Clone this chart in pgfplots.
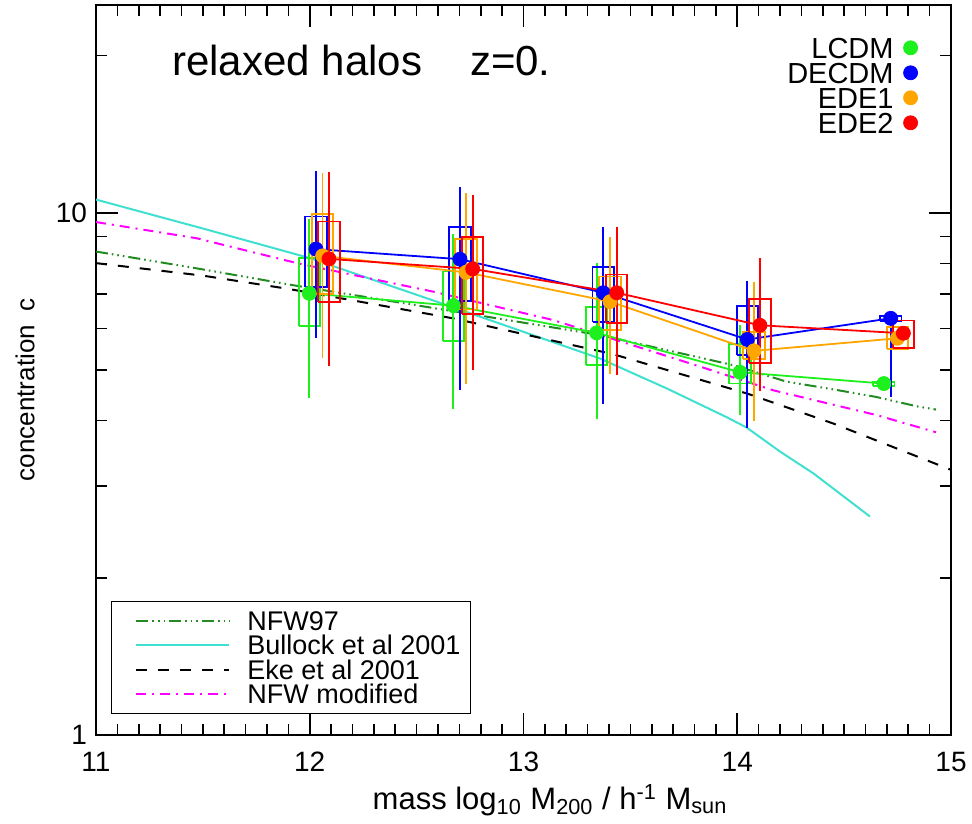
\documentclass[border=0pt]{standalone}
\usepackage{fontspec}
\setmainfont{Liberation Sans}
\usepackage{pgfplots}
\usepackage{pgfplotstable}
\pgfplotsset{compat=1.18}

\definecolor{lcdm}{RGB}{30,240,30}
\definecolor{decdm}{RGB}{0,0,255}
\definecolor{edeone}{RGB}{255,165,0}
\definecolor{edetwo}{RGB}{255,0,0}
\definecolor{bullock}{RGB}{64,224,208}
\definecolor{nfwgreen}{RGB}{34,139,34}
\definecolor{nfwmag}{RGB}{255,0,255}

% model curves
\pgfplotstableread{
x y
11.00 8.43
11.47 7.83
11.92 7.27
12.64 6.51
13.36 5.83
13.98 5.11
14.23 4.75
14.45 4.59
14.65 4.44
14.84 4.26
14.93 4.20
}\nfwnn
\pgfplotstableread{
x y
11.00 10.6
11.50 9.33
12.00 8.19
12.672 6.59
13.358 5.26
13.67 4.61
13.951 4.06
14.044 3.88
14.20 3.49
14.356 3.17
14.621 2.62
}\bullock
\pgfplotstableread{
x y
11.00 8.01
11.50 7.58
11.90 7.15
12.67 6.28
13.42 5.36
14.044 4.51
14.449 3.95
15.00 3.22
}\eke
\pgfplotstableread{
x y
11.00 9.60
11.47 8.94
11.94 8.01
12.58 7.06
13.14 6.23
13.83 5.07
14.17 4.57
14.65 4.10
14.93 3.80
}\nfwmod

% simulation points: x, median
\pgfplotstableread{
x y
11.998 7.01
12.672 6.64
13.342 5.89
14.013 4.95
14.686 4.71
}\lcdmpts
\pgfplotstableread{
x y
12.029 8.52
12.703 8.15
13.373 7.03
14.047 5.72
14.718 6.28
}\decdmpts
\pgfplotstableread{
x y
12.060 8.27
12.731 7.69
13.405 6.76
14.078 5.44
14.749 5.75
}\edeonepts
\pgfplotstableread{
x y
12.090 8.16
12.762 7.81
13.436 7.03
14.106 6.09
14.777 5.88
}\edetwopts

\begin{document}
\begin{tikzpicture}
\begin{axis}[name=main, scale only axis, width=427.5pt, height=365pt,
  xmin=11, xmax=15, ymin=1, ymax=25, ymode=log,
  xtick={11,12,13,14,15}, minor x tick num=9,
  ytick={1,10}, yticklabels={1,10}, minor ytick={2,3,4,5,6,7,8,9,20},
  tick align=inside, major tick length=11pt, minor tick length=5.5pt,
  axis line style={line width=1pt},
  every tick/.style={black, line width=0.8pt},
  tick label style={font=\fontsize{14}{16}\selectfont},
  /pgf/number format/assume math mode=true,
  xticklabel style={yshift=-5pt},
  yticklabel style={xshift=-1pt},
  xlabel={mass log\textsubscript{10} M\textsubscript{200} / h\textsuperscript{-1} M\textsubscript{sun}},
  ylabel={concentration\enspace c},
  ylabel style={font=\fontsize{13}{15}\selectfont, at={(rel axis cs:-0.083,0.4726)}, anchor=center},
  xlabel style={font=\fontsize{15.5}{17}\selectfont, at={(rel axis cs:0.531,-0.089)}, anchor=center},
  legend style={at={(rel axis cs:0.0172,0.0288)}, anchor=south west,
    draw=black, line width=0.6pt, fill=white,
    inner xsep=5pt, inner ysep=4.8pt,
    font=\fontsize{13.5}{15}\selectfont,
    nodes={inner sep=0pt, text height=9.7pt, text depth=0pt},
    row sep=2.55pt,
    /tikz/every odd column/.append style={column sep=8.5pt}},
  legend cell align=left,
  legend image code/.code={\path (0pt,0pt); \draw[#1] (7pt,0pt) -- (53.5pt,0pt);},
]
\addplot[nfwgreen, line width=1pt, dash pattern=on 6pt off 2pt on 0.8pt off 2pt on 0.8pt off 2pt on 0.8pt off 2pt] table {\nfwnn};
\addlegendentry{NFW97}
\addplot[bullock, line width=1pt] table {\bullock};
\addlegendentry{Bullock et al 2001}
\addplot[black, line width=1pt, dash pattern=on 5.5pt off 5.5pt] table {\eke};
\addlegendentry{Eke et al 2001}
\addplot[nfwmag, line width=1pt, dash pattern=on 5pt off 3pt on 1pt off 3pt] table {\nfwmod};
\addlegendentry{NFW modified}
\node[anchor=base west, font=\fontsize{21}{24}\selectfont] at (rel axis cs:0.081,0.904) {relaxed halos\hspace{24pt}z=0.};
\end{axis}

\begin{axis}[scale only axis, width=427.5pt, height=365pt,
  xmin=11, xmax=15, ymin=1, ymax=25, ymode=log, hide axis,
  unbounded coords=jump,
  legend style={at={(rel axis cs:0.9614,0.956)}, anchor=north east,
    draw=none, fill=none, inner sep=0pt,
    font=\fontsize{14.5}{16}\selectfont,
    nodes={inner sep=0pt, text height=10.3pt, text depth=0pt},
    row sep=2.2pt,
    /tikz/every odd column/.append style={column sep=5pt}},
  legend cell align=right, legend plot pos=right,
  legend image code/.code={\draw[#1] plot coordinates {(0pt,0pt)};},
]
% ---- LCDM ----
\addplot[lcdm, line width=0.9pt, forget plot] coordinates {
 (11.998,4.41) (11.998,9.72) (11.998,nan)
 (12.672,4.21) (12.672,9.11) (12.672,nan)
 (13.342,4.02) (13.342,8.01) (13.342,nan)
 (14.013,4.10) (14.013,6.10) };
\addplot[lcdm, line width=0.9pt, forget plot] coordinates {
 (11.948,6.08) (12.048,6.08) (12.048,8.19) (11.948,8.19) (11.948,6.08) (11.948,nan)
 (12.622,5.69) (12.722,5.69) (12.722,7.72) (12.622,7.72) (12.622,5.69) (12.622,nan)
 (13.292,5.11) (13.392,5.11) (13.392,6.61) (13.292,6.61) (13.292,5.11) (13.292,nan)
 (13.963,4.71) (14.063,4.71) (14.063,5.61) (13.963,5.61) (13.963,4.71) (13.963,nan)
 (14.636,4.66) (14.736,4.66) (14.736,4.74) (14.636,4.74) (14.636,4.66) };
\addplot[lcdm, line width=0.9pt, forget plot] table {\lcdmpts};
% ---- DECDM ----
\addplot[decdm, line width=0.9pt, forget plot] coordinates {
 (12.029,5.75) (12.029,12.0) (12.029,nan)
 (12.703,4.57) (12.703,11.2) (12.703,nan)
 (13.373,4.31) (13.373,9.39) (13.373,nan)
 (14.047,3.88) (14.047,7.40) (14.047,nan)
 (14.718,4.44) (14.718,6.32) };
\addplot[decdm, line width=0.9pt, forget plot] coordinates {
 (11.979,7.22) (12.079,7.22) (12.079,9.84) (11.979,9.84) (11.979,7.22) (11.979,nan)
 (12.653,6.79) (12.753,6.79) (12.753,9.39) (12.653,9.39) (12.653,6.79) (12.653,nan)
 (13.323,6.18) (13.423,6.18) (13.423,7.88) (13.323,7.88) (13.323,6.18) (13.323,nan)
 (13.997,5.34) (14.097,5.34) (14.097,6.64) (13.997,6.64) (13.997,5.34) (13.997,nan)
 (14.668,6.20) (14.768,6.20) (14.768,6.34) (14.668,6.34) (14.668,6.20) };
\addplot[decdm, line width=0.9pt, forget plot] table {\decdmpts};
% ---- EDE1 ----
\addplot[edeone, line width=0.9pt, forget plot] coordinates {
 (12.060,5.28) (12.060,11.9) (12.060,nan)
 (12.731,4.70) (12.731,10.9) (12.731,nan)
 (13.405,4.92) (13.405,8.98) (13.405,nan)
 (14.078,3.99) (14.078,7.38) };
\addplot[edeone, line width=0.9pt, forget plot] coordinates {
 (12.010,6.99) (12.110,6.99) (12.110,9.94) (12.010,9.94) (12.010,6.99) (12.010,nan)
 (12.681,6.53) (12.781,6.53) (12.781,8.90) (12.681,8.90) (12.681,6.53) (12.681,nan)
 (13.355,5.96) (13.455,5.96) (13.455,7.55) (13.355,7.55) (13.355,5.96) (13.355,nan)
 (14.028,5.25) (14.128,5.25) (14.128,5.92) (14.028,5.92) (14.028,5.25) (14.028,nan)
 (14.699,5.48) (14.799,5.48) (14.799,6.05) (14.699,6.05) (14.699,5.48) };
\addplot[edeone, line width=0.9pt, forget plot] table {\edeonepts};
% ---- EDE2 ----
\addplot[edetwo, line width=0.9pt, forget plot] coordinates {
 (12.090,5.09) (12.090,11.97) (12.090,nan)
 (12.762,5.01) (12.762,10.83) (12.762,nan)
 (13.436,4.89) (13.436,9.39) (13.436,nan)
 (14.106,4.56) (14.106,8.19) };
\addplot[edetwo, line width=0.9pt, forget plot] coordinates {
 (12.040,6.74) (12.140,6.74) (12.140,9.62) (12.040,9.62) (12.040,6.74) (12.040,nan)
 (12.712,6.40) (12.812,6.40) (12.812,8.98) (12.712,8.98) (12.712,6.40) (12.712,nan)
 (13.386,6.16) (13.486,6.16) (13.486,7.62) (13.386,7.62) (13.386,6.16) (13.386,nan)
 (14.056,5.15) (14.156,5.15) (14.156,6.85) (14.056,6.85) (14.056,5.15) (14.056,nan)
 (14.727,5.51) (14.827,5.51) (14.827,6.22) (14.727,6.22) (14.727,5.51) };
\addplot[edetwo, line width=0.9pt, forget plot] table {\edetwopts};
% ---- markers (legend) ----
\addplot[only marks, mark=*, mark size=3.5pt, lcdm, mark options={fill=lcdm, draw=lcdm}] table {\lcdmpts};
\addlegendentry{LCDM}
\addplot[only marks, mark=*, mark size=3.5pt, decdm, mark options={fill=decdm, draw=decdm}] table {\decdmpts};
\addlegendentry{DECDM}
\addplot[only marks, mark=*, mark size=3.5pt, edeone, mark options={fill=edeone, draw=edeone}] table {\edeonepts};
\addlegendentry{EDE1}
\addplot[only marks, mark=*, mark size=3.5pt, edetwo, mark options={fill=edetwo, draw=edetwo}] table {\edetwopts};
\addlegendentry{EDE2}
\end{axis}
\pgfresetboundingbox
\path (main.south west) ++(-48pt,-44pt) rectangle ++(486pt,411.5pt);
\end{tikzpicture}
\end{document}
